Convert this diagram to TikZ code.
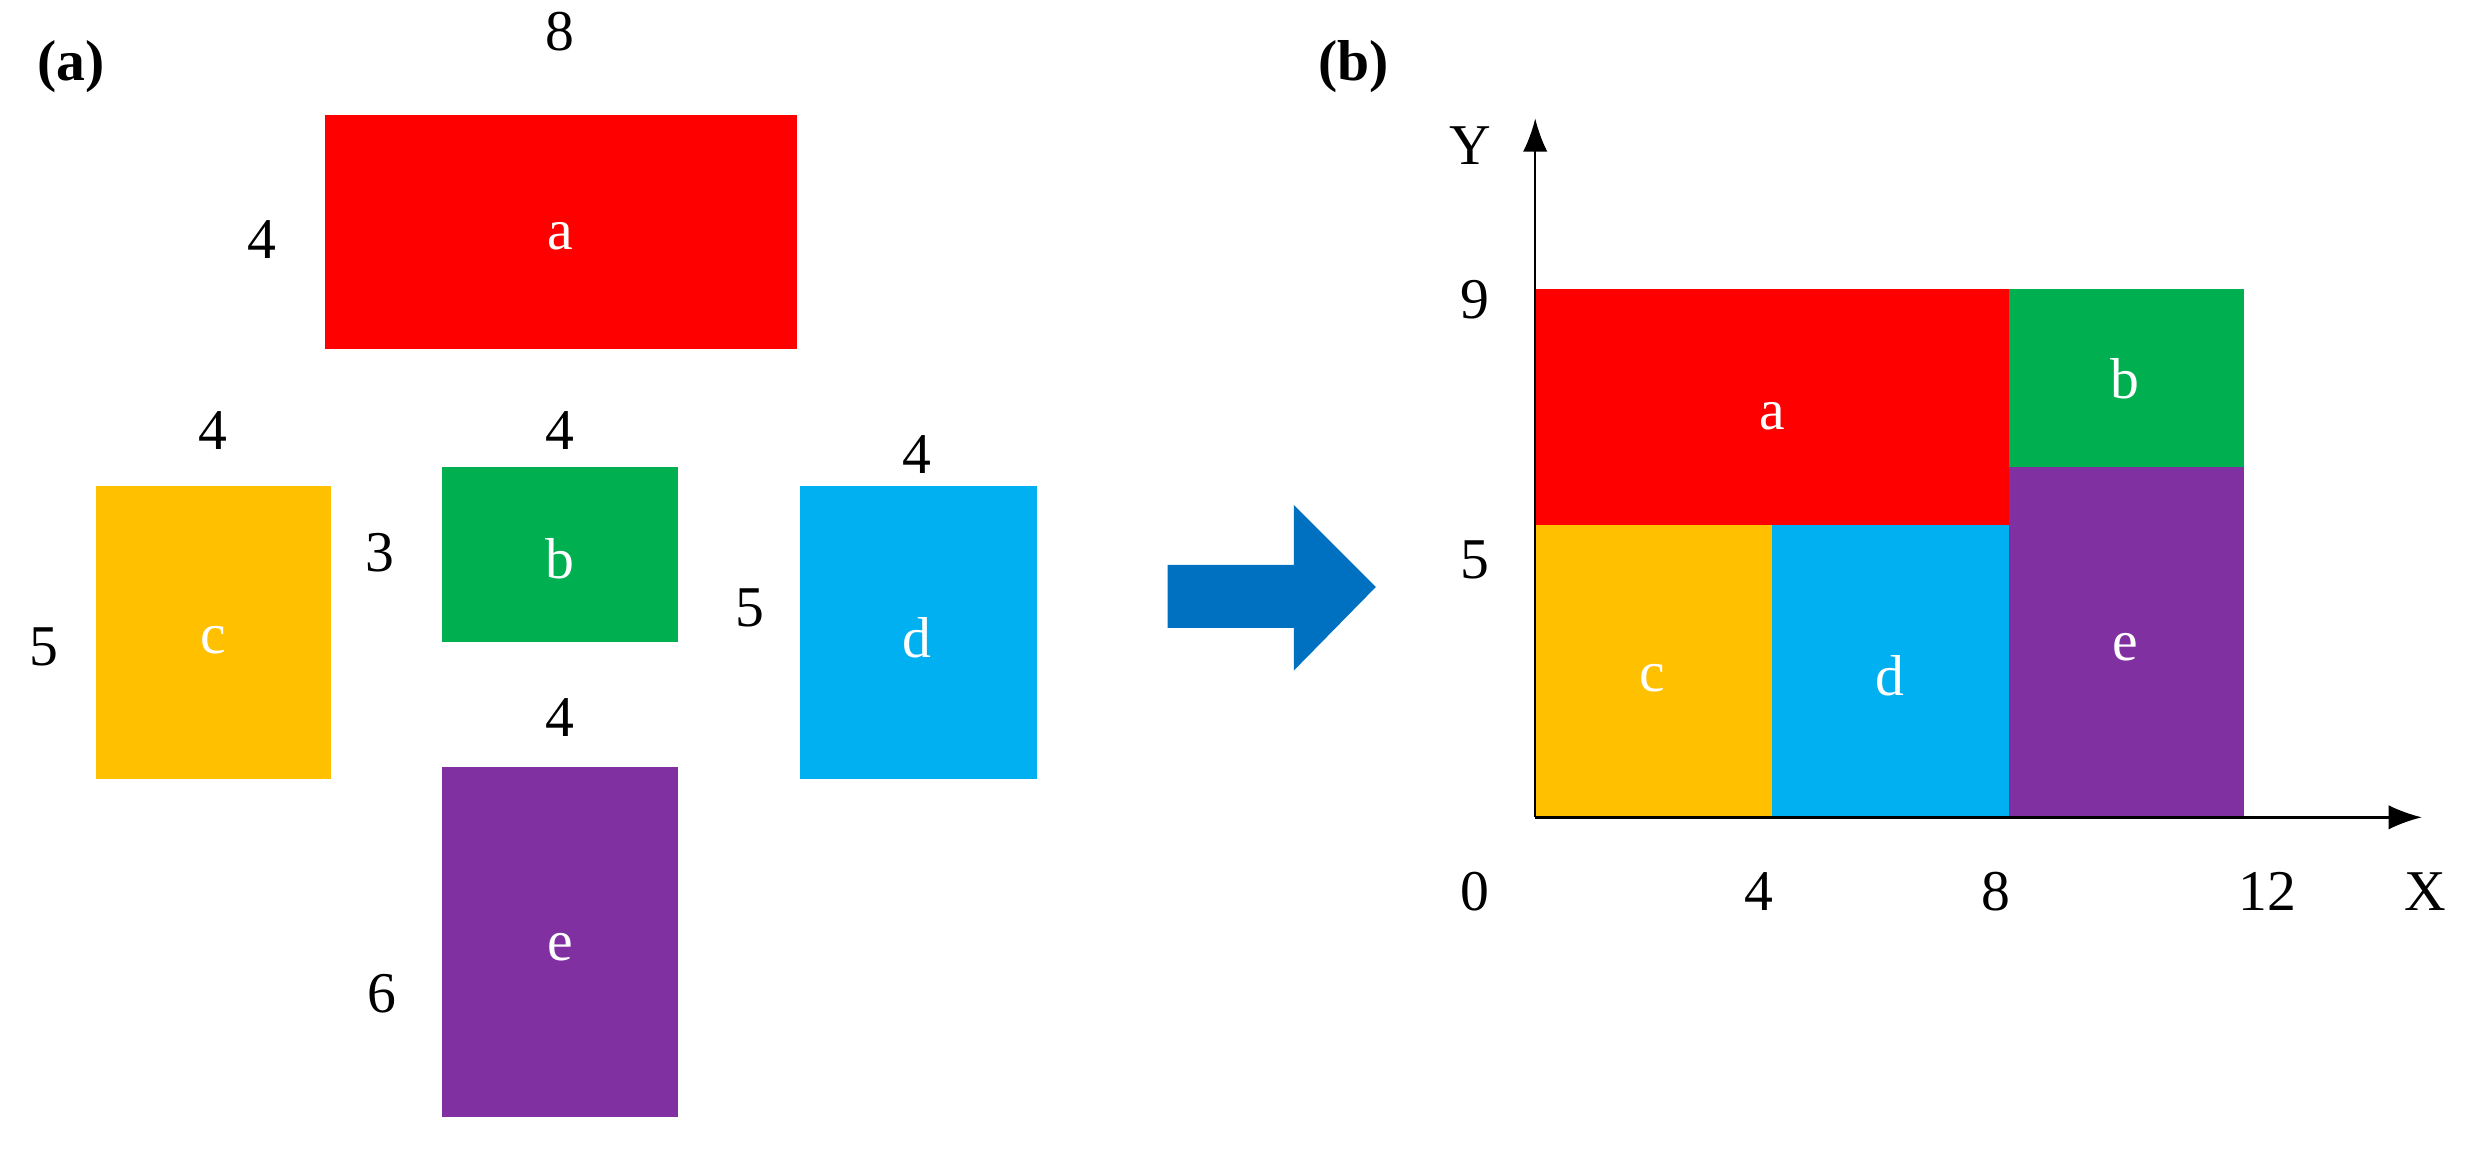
\documentclass[tikz,border=0pt]{standalone}
\usepackage{fontspec}
\usetikzlibrary{arrows.meta}
\setmainfont{Liberation Serif}
\definecolor{cred}{RGB}{255,0,0}
\definecolor{cgreen}{RGB}{0,176,80}
\definecolor{cyel}{RGB}{255,192,0}
\definecolor{cblue}{RGB}{0,176,240}
\definecolor{cpur}{RGB}{128,48,160}
\definecolor{carrow}{RGB}{0,112,192}
\begin{document}
\begin{tikzpicture}[x=0.05cm,y=-0.05cm,
  lab/.style={font=\fontsize{52}{56}\selectfont},
  inl/.style={font=\fontsize{52}{56}\selectfont,text=white},
  ttl/.style={font=\fontsize{52}{56}\selectfont\bfseries}]
\useasboundingbox (0,0) rectangle (1568,730);
% part a
\fill[cred] (206,73) rectangle (505,221);
\fill[cyel] (61,308) rectangle (210,494);
\fill[cgreen] (280,296) rectangle (430,407);
\fill[cblue] (507,308) rectangle (657,494);
\fill[cpur] (280,486) rectangle (430,708);
\node[inl] (ta) at (355,150) {a};
\node[inl] (tc) at (135,406) {c};
\node[inl] (tb) at (355,354) {b};
\node[inl] (td) at (581,404) {d};
\node[inl] (te) at (355,600) {e};
\node[lab] (l1) at (355,20) {8};
\node[lab] (l2) at (166,152) {4};
\node[lab] (l3) at (135,273) {4};
\node[lab] (l4) at (28,410) {5};
\node[lab] (l5) at (355,273) {4};
\node[lab] (l6) at (241,350) {3};
\node[lab] (l7) at (581,288) {4};
\node[lab] (l8) at (475,385) {5};
\node[lab] (l9) at (355,455) {4};
\node[lab] (l10) at (242,630) {6};
\node[ttl] (pa) at (45,42) {(a)};
\node[ttl] (pb) at (858,42) {(b)};
% arrow
\fill[carrow] (740,358) -- (820,358) -- (820,320) -- (872,372) -- (820,425) -- (820,398) -- (740,398) -- cycle;
% part b
\fill[cred] (973,183) rectangle (1273,333);
\fill[cgreen] (1273,183) rectangle (1422,296);
\fill[cpur] (1273,296) rectangle (1422,518);
\fill[cyel] (973,333) rectangle (1123,518);
\fill[cblue] (1123,333) rectangle (1273,518);
\node[inl] (ba) at (1123,264) {a};
\node[inl] (bb) at (1347,240) {b};
\node[inl] (be) at (1347,410) {e};
\node[inl] (bc) at (1047,430) {c};
\node[inl] (bd) at (1198,428) {d};
\coordinate (o) at (973,518);
\coordinate (ye) at (973,75);
\coordinate (xe) at (1535,518);
\draw[line width=2.2pt,-{Latex[length=30pt,width=22pt]}] (o) -- (ye);
\draw[line width=2.2pt,-{Latex[length=30pt,width=22pt]}] (o) -- (xe);
\node[lab] (ly) at (932,92) {Y};
\node[lab] (l9b) at (935,190) {9};
\node[lab] (l5b) at (935,355) {5};
\node[lab] (l0) at (935,565) {0};
\node[lab] (l4b) at (1115,565) {4};
\node[lab] (l8b) at (1265,565) {8};
\node[lab] (l12) at (1437,565) {12};
\node[lab] (lx) at (1537,565) {X};
\end{tikzpicture}
\end{document}
